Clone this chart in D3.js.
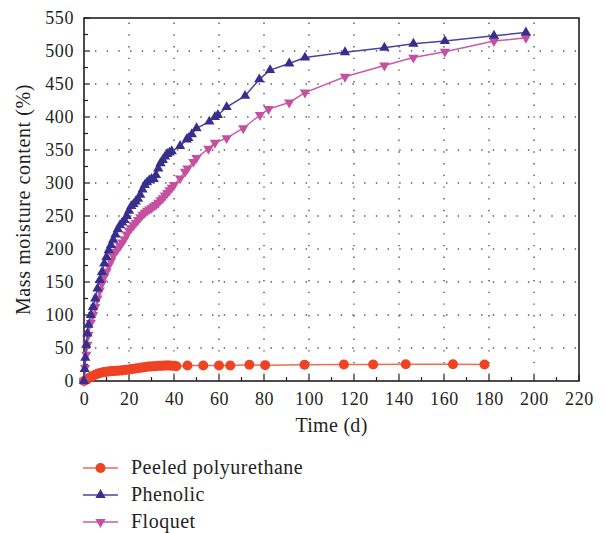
<!DOCTYPE html>
<html><head><meta charset="utf-8">
<script src="https://cdn.jsdelivr.net/npm/d3@7"></script>
<style>body{margin:0;background:#fff}svg{display:block}text{font-family:"Liberation Serif","Times New Roman",serif;fill:#231f20}</style>
</head><body><svg id="c" width="605" height="533"></svg>
<script>
const seriesNames = ["Peeled polyurethane", "Phenolic", "Floquet"];
const xTicks = [0,20,40,60,80,100,120,140,160,180,200,220];
const yTicks = [0,50,100,150,200,250,300,350,400,450,500,550];

const puTime = [0,1,2,3,4,5,6,7,8,9,10,11,12,13,14,15,16,17,18,19,20,21,22,23,24,25,26,27,28,29,30,31,32,33,34,35,36,37,38,39,40,41,46,53,60,65,73.5,80.5,98,115.5,128.5,143,164,178];
const puValue = [0,2,4,6,8,9.5,11,12,13,13.5,14,14.5,15,15,15.5,15.5,16,16,16.5,17,17.5,18,18.5,19,19.5,20,20.5,21,21.5,22,22,22.5,22.5,23,23,23,23.5,23.5,23.5,23,23,22.5,23.5,23.5,23.5,23.5,24.5,24,24.5,25,25,25.5,25.5,25];

const phTime = [0,0.3,0.6,1,1.5,2,3,4,5,6,7,8,9,10,11,12,13,14,15,16,17,18,19,20,21,22,23,24,25,26,27,28,29,30,31,32,33,34,35,36,37,38,39,42.7,45.6,46.4,47.9,50,55.7,58.2,59.5,63.4,71.6,77.9,82.7,91.2,98.2,116,133.5,146.4,160.4,182.2,196.4];
const phValue = [0,18,35,55,72,85,100,112,125,140,153,165,178,188,198,206,214,222,230,236,240,244,250,258,265,268,272,276,282,290,297,301,304,306,306,312,322,330,335,340,344,346,348,356,366,368,374,383,393,400,403,415,432,457,471,481,490,498,505,511,515,523,528];

const flTime = [0,0.5,1,1.5,2,3,4,5,6,7,8,9,10,11,12,13,14,15,16,17,18,19,20,21,22,23,24,25,26,27,28,29,30,31,32,33,34,35,36,37,38,39,40,42.7,44.9,46,48.6,50,55.3,58.2,63.4,70.8,78.2,82,91.2,98.2,116,133.5,146.4,160.4,182.2,196.4];
const flValue = [0,20,40,55,70,88,100,112,125,137,148,158,166,175,182,190,196,200,205,210,215,222,228,232,236,240,244,248,252,255,258,260,262,265,267,270,274,277,281,285,289,293,297,307,317,322,332,338,352,361,368,383,403,412,422,437,461,478,490,499,515,520];

const colors = {
  pu: {line:"#f26a4f", mark:"#ee4323"},
  ph: {line:"#4b43a0", mark:"#382e8e"},
  fl: {line:"#c95ba6", mark:"#c4509f"}
};

const svg = d3.select("#c");
svg.append("rect").attr("width",605).attr("height",533).attr("fill","#fff");
const L=84,R=579,T=18,B=381;
const x = d3.scaleLinear().domain([0,220]).range([L,R]);
const y = d3.scaleLinear().domain([0,550]).range([B,T]);

// grid
const grid = svg.append("g").attr("stroke","#555").attr("stroke-width",1.4).attr("stroke-dasharray","1.4,10.3");
xTicks.filter(v=>v>0&&v<220).forEach(v=>{
  grid.append("line").attr("x1",x(v)).attr("x2",x(v)).attr("y1",B-6).attr("y2",T);
});
yTicks.filter(v=>v>0&&v<550).forEach(v=>{
  grid.append("line").attr("x1",L+11).attr("x2",R).attr("y1",y(v)).attr("y2",y(v));
});

// axes
const xAxis = d3.axisBottom(x).tickValues(xTicks).tickSize(0).tickPadding(11).tickFormat(d3.format("d"));
const gx = svg.append("g").attr("transform",`translate(0,${B})`).call(xAxis);
gx.select(".domain").remove();
gx.selectAll("text").attr("font-size",18).attr("letter-spacing","0.6px");
const yAxis = d3.axisLeft(y).tickValues(yTicks).tickSize(0).tickPadding(10).tickFormat(d3.format("d"));
const gy = svg.append("g").attr("transform",`translate(${L},0)`).call(yAxis);
gy.select(".domain").remove();
gy.selectAll("text").attr("font-size",18).attr("letter-spacing","0.6px");

// inward ticks
const tk = svg.append("g").attr("stroke","#231f20").attr("stroke-width",1.2);
d3.range(0,221,10).forEach(v=>{
  const len = v%20===0?6:4;
  tk.append("line").attr("x1",x(v)).attr("x2",x(v)).attr("y1",B).attr("y2",B-len);
});
d3.range(0,551,25).forEach(v=>{
  const len = v%50===0?6:4;
  tk.append("line").attr("x1",L).attr("x2",L+len).attr("y1",y(v)).attr("y2",y(v));
});
// frame
svg.append("rect").attr("x",L).attr("y",T).attr("width",R-L).attr("height",B-T)
  .attr("fill","none").attr("stroke","#231f20").attr("stroke-width",1.6);

// titles
svg.append("text").attr("x",(L+R)/2).attr("y",432).attr("text-anchor","middle")
  .attr("font-size",20).attr("letter-spacing","0.3px").text("Time (d)");
svg.append("text").attr("transform",`translate(30,${(T+B)/2}) rotate(-90)`).attr("text-anchor","middle")
  .attr("font-size",20).attr("letter-spacing","0.6px").text("Mass moisture content (%)");

const line = d3.line().x(d=>x(d[0])).y(d=>y(d[1]));
const triUp = d3.symbol().type(d3.symbolTriangle).size(46)();

function drawSeries(times, vals, c, kind){
  const pts = times.map((t,i)=>[t,vals[i]]);
  const g = svg.append("g");
  g.append("path").datum(pts).attr("d",line).attr("fill","none").attr("stroke",c.line).attr("stroke-width",1.5);
  const m = g.selectAll("path.m").data(pts).enter();
  if(kind==="circle"){
    m.append("circle").attr("cx",d=>x(d[0])).attr("cy",d=>y(d[1])).attr("r",5).attr("fill",c.mark);
  } else {
    m.append("path").attr("class","m").attr("d",triUp)
      .attr("transform",d=>`translate(${x(d[0])},${y(d[1])})${kind==="down"?" rotate(180)":""}`)
      .attr("fill",c.mark);
  }
}
drawSeries(puTime, puValue, colors.pu, "circle");
drawSeries(flTime, flValue, colors.fl, "down");
drawSeries(phTime, phValue, colors.ph, "up");

// legend
const legend = [
  {name:seriesNames[0], c:colors.pu, kind:"circle"},
  {name:seriesNames[1], c:colors.ph, kind:"up"},
  {name:seriesNames[2], c:colors.fl, kind:"down"}
];
legend.forEach((d,i)=>{
  const yy = 468 + i*27;
  const g = svg.append("g");
  g.append("line").attr("x1",83).attr("x2",118).attr("y1",yy).attr("y2",yy).attr("stroke",d.c.line).attr("stroke-width",1.5);
  if(d.kind==="circle") g.append("circle").attr("cx",100.5).attr("cy",yy).attr("r",5).attr("fill",d.c.mark);
  else g.append("path").attr("d",triUp).attr("transform",`translate(100.5,${yy})${d.kind==="down"?" rotate(180)":""}`).attr("fill",d.c.mark);
  g.append("text").attr("x",131).attr("y",yy+6).attr("font-size",20).attr("letter-spacing","0.5px").text(d.name);
});
</script></body></html>
